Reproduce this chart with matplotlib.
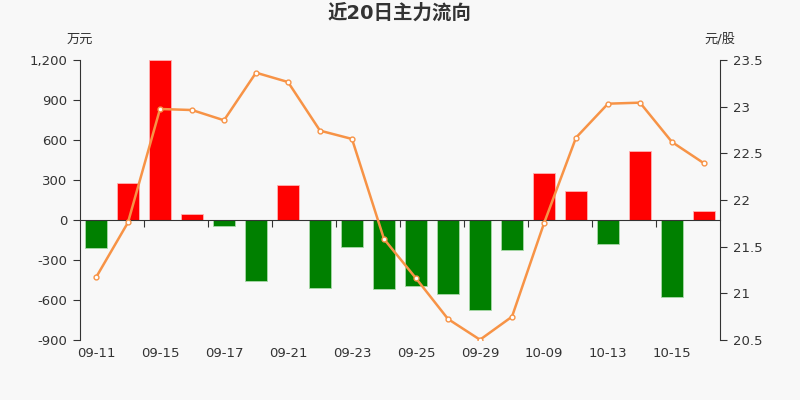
import matplotlib
matplotlib.use("Agg")
import matplotlib.pyplot as plt
import matplotlib.transforms as mtransforms
from matplotlib.ticker import FuncFormatter, FixedLocator
import numpy as np

plt.rcParams['font.family'] = ['DejaVu Sans', 'Noto Sans CJK SC']

dates = ["09-11", "09-14", "09-15", "09-16", "09-17", "09-18", "09-21", "09-22",
         "09-23", "09-24", "09-25", "09-28", "09-29", "09-30", "10-09", "10-12",
         "10-13", "10-14", "10-15", "10-16"]
flow = [-207, 278, 1200, 43, -43, -457, 262, -512, -205, -515,
        -495, -552, -675, -227, 350, 217, -182, 517, -575, 67]
price = [21.17, 21.76, 22.975, 22.964, 22.854, 23.364, 23.264, 22.743, 22.654, 21.582,
         21.161, 20.725, 20.503, 20.75, 21.75, 22.668, 23.032, 23.043, 22.621, 22.393]
left_ticks = [-900, -600, -300, 0, 300, 600, 900, 1200]
right_ticks = [20.5, 21, 21.5, 22, 22.5, 23, 23.5]

bg = "#f8f8f8"
txt = "#333333"
fig = plt.figure(figsize=(8, 4), dpi=100, facecolor=bg)
ax = fig.add_axes([0.1, 0.15, 0.8, 0.7])
ax.set_facecolor(bg)

x = np.arange(len(dates))
colors = ["#ff0000" if v >= 0 else "#008000" for v in flow]
ax.bar(x, flow, width=0.7, color=colors, edgecolor=["#ffb3b3" if v >= 0 else "#a8d8a8" for v in flow],
       linewidth=0.6, zorder=2)
ax.set_xlim(-0.5, len(dates) - 0.5)
ax.set_ylim(-900, 1200)
ax.set_yticks(left_ticks)
ax.yaxis.set_major_formatter(FuncFormatter(lambda v, p: f"{int(v):,}"))
ax.tick_params(axis='y', direction='out', length=5, color=txt, labelcolor=txt, labelsize=9.5, pad=4)

for s in ["top", "right"]:
    ax.spines[s].set_visible(False)
ax.spines["left"].set_color(txt)
ax.spines["bottom"].set_position(("data", 0))
ax.spines["bottom"].set_color(txt)
ax.spines["bottom"].set_zorder(3)

ax.xaxis.set_major_locator(FixedLocator(np.arange(1.5, len(dates) - 1, 2)))
ax.tick_params(axis='x', direction='out', length=5, color=txt, labelbottom=False)

trans = mtransforms.blended_transform_factory(ax.transData, ax.transAxes)
for i in range(0, len(dates), 2):
    ax.text(x[i], -0.025, dates[i], transform=trans, ha='center', va='top',
            fontsize=9.5, color=txt)

ax2 = ax.twinx()
ax2.set_ylim(20.5, 23.5)
ax2.set_yticks(right_ticks)
ax2.yaxis.set_major_formatter(FuncFormatter(lambda v, p: f"{v:g}"))
ax2.tick_params(axis='y', direction='out', length=5, color=txt, labelcolor=txt, labelsize=9.5, pad=4)
for s in ["top", "left", "bottom"]:
    ax2.spines[s].set_visible(False)
ax2.spines["right"].set_color(txt)
ax2.plot(x, price, color="#f79346", linewidth=1.8, marker='o', markersize=3.5,
         markerfacecolor="white", markeredgecolor="#f79346", markeredgewidth=1, zorder=4)

fig.text(0.5, 0.967, "近20日主力流向", ha='center', va='center', fontsize=14,
         fontweight='bold', color=txt)
fig.text(0.1, 0.903, "万元", ha='center', va='center', fontsize=9.5, color=txt)
fig.text(0.9, 0.903, "元/股", ha='center', va='center', fontsize=9.5, color=txt)

fig.savefig("out.png", dpi=100, facecolor=bg)
